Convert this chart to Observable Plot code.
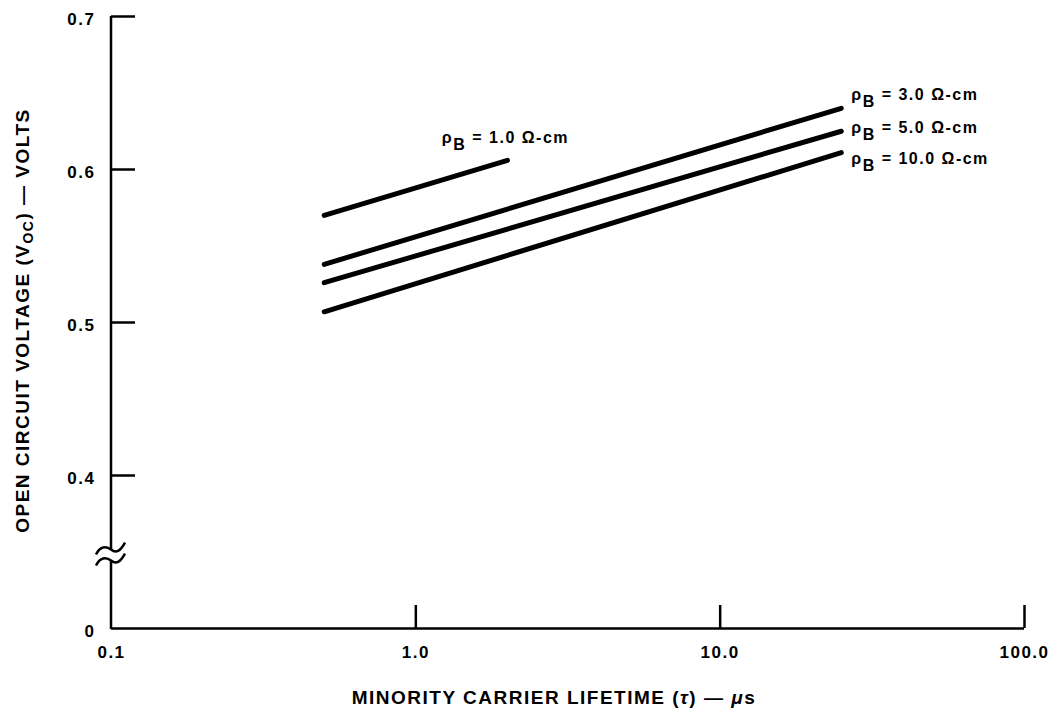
<!DOCTYPE html>
<html>
<head>
<meta charset="utf-8">
<script src="https://cdn.jsdelivr.net/npm/d3@7"></script>
<script src="https://cdn.jsdelivr.net/npm/@observablehq/plot@0.6"></script>
<style>
  body { margin: 0; background: #fff; }
</style>
</head>
<body>
<div id="chart"></div>
<script>
// ---- data ----
const seriesNames = ["1.0", "3.0", "5.0", "10.0"];          // base resistivity, ohm-cm
const tauStart = [0.5, 0.5, 0.5, 0.5];                       // lifetime, µs
const tauEnd   = [2.0, 25, 25, 25];
const vocStart = [0.570, 0.538, 0.526, 0.507];               // open circuit voltage, V
const vocEnd   = [0.606, 0.640, 0.625, 0.611];

const xTicks = [0.1, 1, 10, 100];
const xTickLabels = ["0.1", "1.0", "10.0", "100.0"];
const yTicks = [0.3, 0.4, 0.5, 0.6, 0.7];                    // 0.3 position stands for the broken-axis origin "0"
const yTickLabels = ["0", "0.4", "0.5", "0.6", "0.7"];
const breakAt = 0.348;

const xTitle = "MINORITY CARRIER LIFETIME (τ) — μs";
const yTitle = "OPEN CIRCUIT VOLTAGE (VOC) — VOLTS";

// ---- tables built from the arrays ----
const rows = seriesNames.flatMap((s, i) => [
  {series: s, tau: tauStart[i], voc: vocStart[i]},
  {series: s, tau: tauEnd[i], voc: vocEnd[i]}
]);
const ends = seriesNames.map((s, i) => ({series: s, tau: tauEnd[i], voc: vocEnd[i], label: `ρB = ${s} Ω-cm`}));

// label layout (styling only)
const labelAnchor = ["middle", "start", "start", "start"];
const labelDx = [-2, 10, 10, 10];
const labelDy = [-17, -8, 2, 11];

function brokenYAxis(index, scales) {
  const x0 = scales.x(0.1);
  const yTop = scales.y(0.7), yBot = scales.y(0.3), yb = scales.y(breakAt);
  const g = d3.create("svg:g").attr("fill", "none").attr("stroke", "black").attr("stroke-width", 2.5);
  g.append("path").attr("d", `M${x0},${yTop}V${yb - 5}M${x0},${yb + 6}V${yBot + 1}`);
  for (const oy of [-4, 7]) {
    g.append("path").attr("d",
      `M${x0 - 15},${yb + oy + 4}C${x0 - 11},${yb + oy - 4} ${x0 - 5},${yb + oy - 5} ${x0},${yb + oy - 1}` +
      `S${x0 + 9},${yb + oy + 1} ${x0 + 14},${yb + oy - 8}`);
  }
  return g.node();
}

const chart = Plot.plot({
  width: 1054,
  height: 714,
  marginLeft: 111,
  marginRight: 30,
  marginTop: 16,
  marginBottom: 86,
  style: {fontFamily: "'Liberation Sans', Arial, sans-serif", fontSize: "17px", fontWeight: "bold", letterSpacing: "1.5px", background: "#fff", color: "#000"},
  x: {type: "log", domain: [0.1, 100]},
  y: {domain: [0.3, 0.7]},
  marks: [
    // x baseline
    Plot.ruleY([0.3], {stroke: "black", strokeWidth: 2.5}),
    // inward x ticks
    Plot.axisX({ticks: xTicks.slice(1), tickSize: 23, dy: -23, strokeWidth: 2.5, tickFormat: () => "", label: null}),
    // x tick labels
    Plot.axisX({ticks: xTicks, tickSize: 0, tickPadding: 17, tickFormat: d => xTickLabels[xTicks.indexOf(d)], label: null}),
    // inward y ticks
    Plot.axisY({ticks: yTicks.slice(1), tickSize: 24, dx: 24, strokeWidth: 2.5, tickFormat: () => "", label: null}),
    // y tick labels
    Plot.axisY({ticks: yTicks, tickSize: 0, tickPadding: 16, dy: 3, tickFormat: d => yTickLabels[yTicks.indexOf(d)], label: null}),
    brokenYAxis,
    // data lines
    Plot.line(rows, {x: "tau", y: "voc", z: "series", stroke: "black", strokeWidth: 5, strokeLinecap: "round"}),
    // series labels
    ...ends.map((d, i) => Plot.text([d], {
      x: "tau", y: "voc", text: "label",
      textAnchor: labelAnchor[i], lineAnchor: "bottom", dx: labelDx[i], dy: labelDy[i], fontSize: 16
    })),
    // axis titles
    Plot.text([xTitle], {frameAnchor: "bottom", textAnchor: "middle", lineAnchor: "middle", dx: -14, dy: 69, fontSize: 19}),
    Plot.text([yTitle], {frameAnchor: "left", textAnchor: "middle", lineAnchor: "middle", rotate: -90, dx: -89, dy: -2, fontSize: 19})
  ]
});

// subscripts / italics as tspans
d3.select(chart).selectAll("text").each(function () {
  const t = this.textContent;
  const sel = d3.select(this);
  if (t.startsWith("ρB = ")) {
    this.textContent = "";
    sel.append("tspan").text("ρ");
    sel.append("tspan").attr("dy", 7).text("B");
    sel.append("tspan").attr("dy", -7).text(t.slice(2));
  } else if (t === yTitle) {
    this.textContent = "";
    sel.append("tspan").text("OPEN CIRCUIT VOLTAGE (V");
    sel.append("tspan").attr("dy", 4).attr("font-size", "14px").text("OC");
    sel.append("tspan").attr("dy", -4).text(") — VOLTS");
  } else if (t === xTitle) {
    this.textContent = "";
    sel.append("tspan").text("MINORITY CARRIER LIFETIME (");
    sel.append("tspan").attr("font-style", "italic").text("τ");
    sel.append("tspan").text(") — ");
    sel.append("tspan").attr("font-style", "italic").text("μ");
    sel.append("tspan").text("s");
  }
});

document.getElementById("chart").appendChild(chart);
</script>
</body>
</html>
